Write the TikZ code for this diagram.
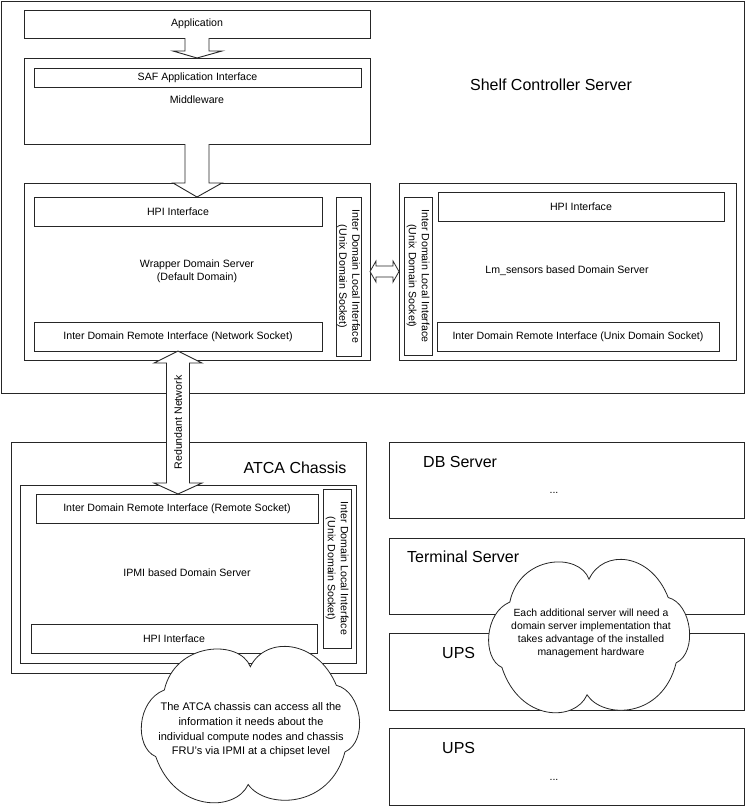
\documentclass[tikz,border=0pt]{standalone}
\usepackage{fontspec}
\setmainfont{Liberation Sans}
\usetikzlibrary{calc}
\newcommand\bx[5]{\node[box, minimum width={(#4-#2)*1pt}, minimum height={(#5-#3)*1pt}] (#1) at (#2,#3) {};}
\newcommand\mycloudshape[4]{%
  \begin{scope}[shift={(#1,#2)}, xscale=#3, yscale=#4]
    \draw[cloudst] (0.09,0.29) .. controls (0.14,-0.02) and (0.44,-0.04) .. (0.49,0.14)
      .. controls (0.56,-0.06) and (0.80,-0.04) .. (0.89,0.26)
      .. controls (1.01,0.30) and (1.04,0.62) .. (0.93,0.69)
      .. controls (0.86,1.06) and (0.56,1.06) .. (0.48,0.90)
      .. controls (0.42,1.08) and (0.14,1.08) .. (0.05,0.72)
      .. controls (-0.05,0.66) and (-0.04,0.36) .. (0.09,0.29) -- cycle;
  \end{scope}}
\begin{document}
\begin{tikzpicture}[x=1pt,y=-1pt,
  box/.style={draw=black!85, line width=0.9pt, rectangle, inner sep=0pt, outer sep=0pt, anchor=north west},
  txt/.style={font=\fontsize{10.6}{13}\selectfont, inner sep=0pt, align=center},
  big/.style={font=\fontsize{16}{19}\selectfont, inner sep=0pt},
  fat/.style={draw=black!85, line width=0.9pt, fill=white, line join=miter},
  cloudst/.style={draw=black!85, line width=0.8pt, fill=white}]
\useasboundingbox (0,0) rectangle (745,807);
% --- boxes
\bx{shelf}{1}{1}{744}{393}
\bx{app}{24}{10}{370}{38}
\bx{mid}{24}{58}{370}{144}
\bx{saf}{34}{68}{361}{87}
\bx{wrap}{24}{183}{370}{360}
\bx{whpi}{34}{197}{322}{226}
\bx{wnet}{34}{322}{322}{351}
\bx{wloc}{336}{197}{361}{356}
\bx{rds}{399}{183}{736}{360}
\bx{rloc}{404}{197}{432}{355}
\bx{rhpi}{438}{192}{724}{221}
\bx{rrem}{437}{322}{719}{351}
\bx{atca}{11}{442}{366}{673}
\bx{atcain}{20}{485}{356}{663}
\bx{arem}{36}{494}{318}{523}
\bx{ahpi}{31}{624}{317}{653}
\bx{aloc}{323}{489}{351}{648}
\bx{db}{389}{442}{744}{518}
\bx{term}{389}{538}{744}{614}
\bx{ups1}{389}{633}{744}{710}
\bx{ups2}{389}{728}{744}{805}
% --- block arrows
\draw[fat] ($(app.south)+(-12,0)$) -- ($(mid.north)+(-12,-7)$) -- ($(mid.north)+(-24,-7)$) -- (mid.north)
  -- ($(mid.north)+(25,-7)$) -- ($(mid.north)+(12,-7)$) -- ($(app.south)+(12,0)$);
\coordinate (a2tip) at (mid.south |- whpi.north);
\coordinate (a2base) at (mid.south |- wrap.north);
\draw[fat] ($(mid.south)+(-12,0)$) -- ($(a2base)+(-12,0)$) -- ($(a2base)+(-24,0)$) -- (a2tip)
  -- ($(a2base)+(25,0)$) -- ($(a2base)+(12,0)$) -- ($(mid.south)+(12,0)$);
\coordinate (rt) at (wnet.south);
\coordinate (rb) at (wnet.south |- arem.north);
\draw[fat] (rt) -- ($(rt)+(24,12)$) -- ($(rt)+(11.5,12)$) -- ($(rb)+(11.5,-11)$) -- ($(rb)+(24,-11)$) -- (rb)
  -- ($(rb)+(-24,-11)$) -- ($(rb)+(-11.5,-11)$) -- ($(rt)+(-11.5,12)$) -- ($(rt)+(-24,12)$) -- cycle;
\node[txt, rotate=90] (rn) at ($(rt)!0.5!(rb)$) {Redundant Network};
\coordinate (hl) at (wrap.east);
\coordinate (hr) at (rds.west);
\draw[fat, line width=0.8pt] (hl) -- ($(hl)+(6,-10.5)$) -- ($(hl)+(6,-5.5)$) -- ($(hr)+(-6,-5.5)$) -- ($(hr)+(-6,-10.5)$) -- (hr)
  -- ($(hr)+(-6,10.5)$) -- ($(hr)+(-6,5.5)$) -- ($(hl)+(6,5.5)$) -- ($(hl)+(6,10.5)$) -- cycle;
% --- texts
\node[txt] (tapp) at (app.center) {Application};
\node[txt] (tsaf) at (saf.center) {SAF Application Interface};
\node[txt] (tmid) at (197,100) {Middleware};
\node[big] (tshelf) at (551,85) {Shelf Controller Server};
\node[txt] (twhpi) at (whpi.center) {HPI Interface};
\node[txt] (twrap) at (197,271) {Wrapper Domain Server\\(Default Domain)};
\node[txt, rotate=-90] (twloc) at (wloc.center) {Inter Domain Local Interface\\(Unix Domain Socket)};
\node[txt] (twnet) at (wnet.center) {Inter Domain Remote Interface (Network Socket)};
\node[txt, rotate=-90] (trloc) at (rloc.center) {Inter Domain Local Interface\\(Unix Domain Socket)};
\node[txt] (trhpi) at (rhpi.center) {HPI Interface};
\node[txt] (trds) at (567,271) {Lm\_sensors based Domain Server};
\node[txt] (trrem) at (rrem.center) {Inter Domain Remote Interface (Unix Domain Socket)};
\node[big] (tatca) at (295,468) {ATCA Chassis};
\node[txt] (tarem) at (arem.center) {Inter Domain Remote Interface (Remote Socket)};
\node[txt] (tipmi) at (187,573) {IPMI based Domain Server};
\node[txt] (tahpi) at (174,638.5) {HPI Interface};
\node[txt, rotate=-90] (taloc) at (aloc.center) {Inter Domain Local Interface\\(Unix Domain Socket)};
\node[big, anchor=west] (tdb) at (423,462) {DB Server};
\node[txt] (tdbd) at (554,493) {...};
\node[big, anchor=west] (tterm) at (407,557) {Terminal Server};
\node[big, anchor=west] (tups1) at (442,653) {UPS};
\node[big, anchor=west] (tups2) at (442,748) {UPS};
\node[txt] (tupsd) at (554,780) {...};
% --- clouds
\mycloudshape{145}{645}{215}{155}
\node[txt, font=\fontsize{11}{14.6}\selectfont] (lcloud) at (251,730) {The ATCA chassis can access all the\\information it needs about the\\individual compute nodes and chassis\\FRU’s via IPMI at a chipset level};
\mycloudshape{492}{558}{198}{152}
\node[txt, font=\fontsize{10.4}{13}\selectfont] (rcloud) at (591,633.5) {Each additional server will need a\\domain server implementation that\\takes advantage of the installed\\management hardware};
\end{tikzpicture}
\end{document}
